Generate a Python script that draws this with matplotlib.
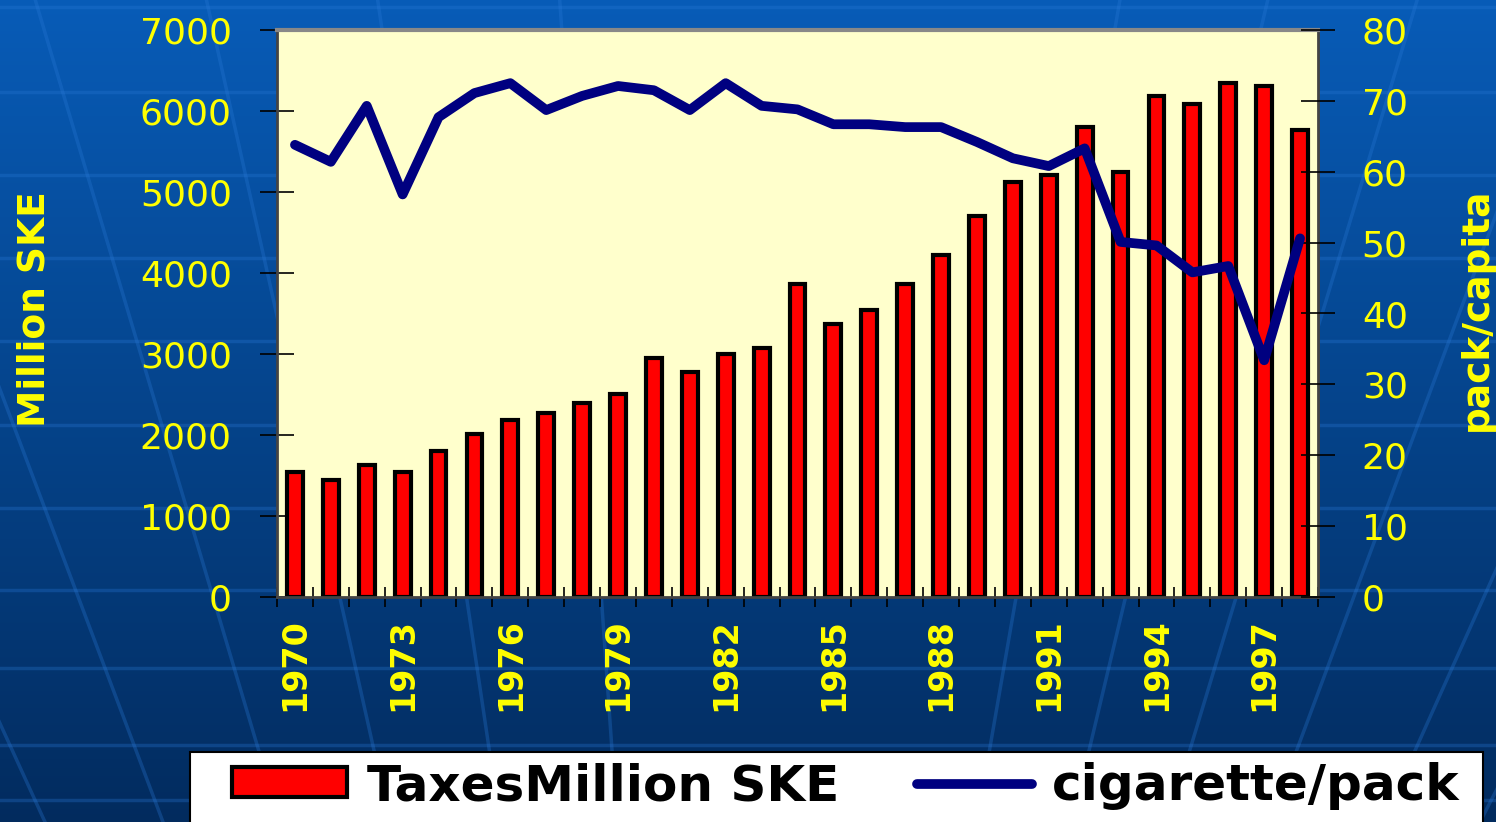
import matplotlib
matplotlib.use('Agg')
import matplotlib.pyplot as plt
from matplotlib.patches import Rectangle, Patch
from matplotlib.lines import Line2D
import numpy as np

plt.rcParams['font.family'] = ['DejaVu Sans']

# ===== 数据 =====
years = list(range(1970, 1999))
taxes = [1540, 1450, 1630, 1540, 1800, 2010, 2180, 2270, 2390, 2510,
         2950, 2780, 3000, 3070, 3870, 3370, 3540, 3870, 4220, 4700,
         5120, 5210, 5800, 5250, 6180, 6090, 6350, 6310, 5760]
packs = [63.8, 61.4, 69.3, 56.8, 67.7, 71.1, 72.5, 68.7, 70.7, 72.1,
         71.5, 68.7, 72.5, 69.3, 68.8, 66.7, 66.7, 66.3, 66.3, 64.2,
         61.9, 60.8, 63.3, 50.1, 49.6, 45.8, 46.7, 33.4, 50.6]
left_ticks = [0, 1000, 2000, 3000, 4000, 5000, 6000, 7000]
right_ticks = [0, 10, 20, 30, 40, 50, 60, 70, 80]
label_years = years[::3]

W, H = 1496, 822
fig = plt.figure(figsize=(W / 100, H / 100), dpi=100)

# ===== 背景：蓝色渐变 + 地球经纬线 =====
bg = fig.add_axes([0, 0, 1, 1], zorder=-10)
bg.set_xlim(0, W)
bg.set_ylim(H, 0)
bg.axis('off')
top_c = np.array([0.03, 0.36, 0.72])
bot_c = np.array([0.01, 0.17, 0.37])
t = np.linspace(0, 1, 256)[:, None]
grad = top_c[None, None, :] * (1 - t[..., None]) + bot_c[None, None, :] * t[..., None]
grad = np.repeat(grad, 2, axis=1)
bg.imshow(grad, extent=(0, W, H, 0), aspect='auto', interpolation='bicubic')
for yy in [7, 92, 175, 258, 341, 425, 508, 590, 668, 745, 800]:
    bg.plot([0, W], [yy, yy], color='#2a7ad8', alpha=0.3, lw=2.5)
pole = (720, 2300)
for xb in [45, 163, 280, 390, 500, 617, 977, 1072, 1168, 1270, 1383, 1480]:
    yy = np.linspace(0, H, 50)
    frac = (pole[1] - yy) / (pole[1] - H)
    xx = pole[0] + (xb - pole[0]) * frac
    bg.plot(xx, yy, color='#2a7ad8', alpha=0.3, lw=2.5)

# ===== 主图 =====
ax = fig.add_axes([277 / W, 1 - 597 / H, (1318 - 277) / W, (597 - 30) / H], zorder=1)
ax.set_facecolor('#ffffcc')
x = np.arange(len(years))
ax.bar(x, taxes, width=0.44, color='#ff0000', edgecolor='black', linewidth=3, zorder=2)
ax.set_xlim(-0.5, len(years) - 0.5)
ax.set_ylim(0, 7000)
ax.set_yticks(left_ticks)
ax.set_yticklabels([str(v) for v in left_ticks])

ax.set_xticks(x[::3])
ax.set_xticklabels([str(y) for y in label_years], rotation=90, fontsize=24,
                   fontweight='bold', color='yellow', va='top', ha='center')
ax.set_xticks(np.arange(-0.5, len(years), 1), minor=True)
ax.tick_params(axis='x', which='major', length=0, pad=15)
ax.tick_params(axis='x', which='minor', direction='inout', length=14, width=1.2, color='black')
ax.tick_params(axis='y', direction='inout', length=25, width=1.2, color='black',
               labelsize=26, labelcolor='yellow', pad=20)

for s in ['left', 'bottom', 'right']:
    ax.spines[s].set_color('#444444')
    ax.spines[s].set_linewidth(2)
ax.spines['top'].set_color('#888888')
ax.spines['top'].set_linewidth(3)

ax.set_ylabel('Million SKE', fontsize=27, fontweight='bold', color='yellow',
              va='center', rotation=90)
ax.yaxis.set_label_coords((35 - 277) / (1318 - 277), (597 - 309) / 567)

# 右轴：人均包数
ax2 = ax.twinx()
ax2.plot(x, packs, color='#000080', linewidth=7, solid_capstyle='round', zorder=3)
ax2.set_ylim(0, 80)
ax2.set_yticks(right_ticks)
ax2.set_yticklabels([str(v) for v in right_ticks])
ax2.tick_params(axis='y', direction='inout', length=25, width=1.2, color='black',
                labelsize=26, labelcolor='yellow', pad=19)
for s in ['left', 'bottom', 'right', 'top']:
    ax2.spines[s].set_visible(False)
ax2.set_ylabel('pack/capita', fontsize=27, fontweight='bold', color='yellow',
               va='center', rotation=90)
ax2.yaxis.set_label_coords((1477 - 277) / (1318 - 277), (597 - 309) / 567)

# ===== 图例 =====
fig.patches.append(Rectangle((190 / W, -0.02), (1483 - 190) / W, (822 - 752) / H + 0.02,
                             transform=fig.transFigure, facecolor='white',
                             edgecolor='black', linewidth=1.5, zorder=5))
handles = [Patch(facecolor='#ff0000', edgecolor='black', linewidth=3),
           Line2D([0], [0], color='#000080', linewidth=7, solid_capstyle='round')]
leg = fig.legend(handles, ['TaxesMillion SKE', 'cigarette/pack'], ncol=2,
                 loc='center left', bbox_to_anchor=(232 / W, 1 - 786 / H),
                 frameon=False, prop={'size': 36, 'weight': 'bold'},
                 handlelength=2.3, handleheight=0.55, handletextpad=0.4,
                 columnspacing=1.55, borderaxespad=0, borderpad=0)
leg.set_zorder(6)

fig.savefig('out.png', dpi=100)
print("saved")
